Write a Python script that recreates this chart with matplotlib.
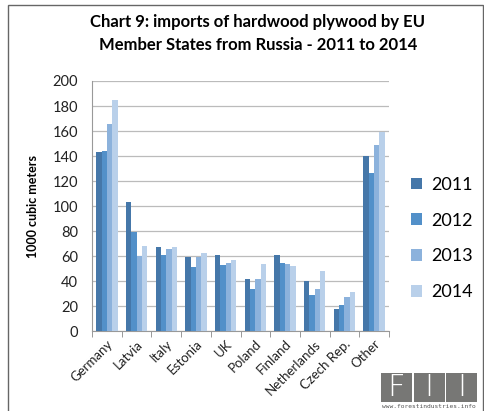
import numpy as np
import matplotlib.pyplot as plt
from matplotlib.patches import Rectangle

countries = ["Germany", "Latvia", "Italy", "Estonia", "UK", "Poland",
             "Finland", "Netherlands", "Czech Rep.", "Other"]
years = ["2011", "2012", "2013", "2014"]
v2011 = [143, 103, 67, 59, 60.5, 42, 61, 40, 18, 140]
v2012 = [144, 79, 60.5, 51, 53, 33.5, 54.5, 28.5, 20.5, 126]
v2013 = [165.5, 60, 66, 59, 54.5, 41.5, 53.5, 34, 27.5, 149]
v2014 = [185, 68, 67.5, 62.5, 56.5, 54, 52, 48, 31.5, 159]
colors = ["#4577A9", "#5290C9", "#8CB2DC", "#B9D0EA"]

plt.rcParams['font.family'] = ['Lato', 'DejaVu Sans']

W, H = 484, 411
fig = plt.figure(figsize=(W / 100, H / 100), dpi=100)
ax = fig.add_axes([92 / W, 1 - 331 / H, (389 - 92) / W, (331 - 81) / H])

x = np.arange(len(countries))
bw = 0.18
for i, (vals, yr) in enumerate(zip([v2011, v2012, v2013, v2014], years)):
    ax.bar(x + (i - 1.5) * bw, vals, bw, color=colors[i], label=yr, zorder=3)

ax.set_xlim(-0.5, len(countries) - 0.5)
ax.set_ylim(0, 200)
ax.set_yticks(range(0, 201, 20))
ax.tick_params(axis='y', length=0, labelsize=10.5, pad=10, colors='#222222')
ax.set_xticks(x)
ax.set_xticklabels(countries, rotation=45, ha='right', rotation_mode='anchor',
                   fontsize=9.5, color='#222222')
ax.tick_params(axis='x', length=0, pad=5)
ax.set_xticks(np.arange(-0.5, len(countries)), minor=True)
ax.tick_params(axis='x', which='minor', length=4, color='#888888')
ax.grid(axis='y', color='#BBBBBB', linewidth=0.9, zorder=0)
for s in ['top', 'right']:
    ax.spines[s].set_visible(False)
ax.spines['left'].set_color('#999999')
ax.spines['bottom'].set_color('#999999')
ax.set_ylabel("1000 cubic meters", fontsize=9, fontweight='bold', labelpad=10)

ax.legend(loc='center left', bbox_to_anchor=(1.02, 0.37), frameon=False,
          fontsize=13, handlelength=0.6, handleheight=0.6, labelspacing=1.1,
          handletextpad=0.5)

fig.text(258 / W, 1 - 22 / H, "Chart 9: imports of hardwood plywood by EU",
         ha='center', va='center', fontsize=12, fontweight='bold')
fig.text(258 / W, 1 - 45 / H, "Member States from Russia - 2011 to 2014",
         ha='center', va='center', fontsize=12, fontweight='bold')

# outer frame
fig.add_artist(Rectangle((8 / W, -0.01), (W - 9) / W, 1 - 5 / H + 0.01,
                         fill=False, edgecolor='#666666', linewidth=1,
                         transform=fig.transFigure))

# FII logo
for x0, letter in zip([381, 413.5, 446], ["F", "I", "I"]):
    fig.add_artist(Rectangle((x0 / W, 1 - 402 / H), 31 / W, 29 / H,
                             facecolor='#777775', edgecolor='none',
                             transform=fig.transFigure))
    fig.text((x0 + 15.5) / W, 1 - 387 / H, letter, ha='center', va='center',
             color='white', fontsize=22, fontweight='light',
             family='DejaVu Sans')
fig.text(429 / W, 1 - 406.5 / H, "www.forestindustries.info", ha='center',
         va='center', fontsize=4.5, color='#555555', family='DejaVu Sans Mono')

fig.savefig("out.png", dpi=100, facecolor='white')
